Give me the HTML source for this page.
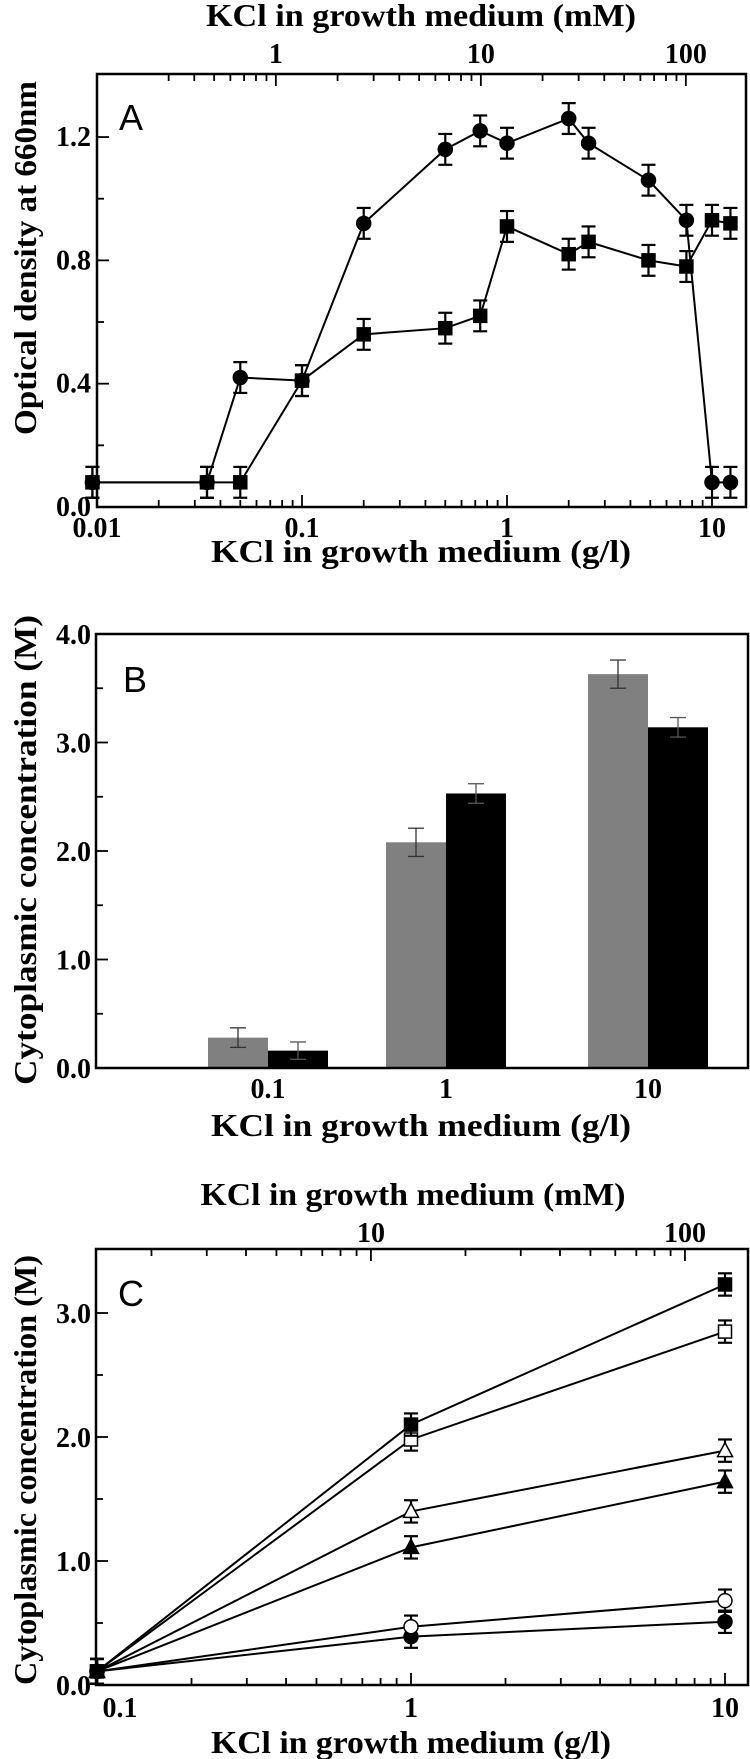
<!DOCTYPE html>
<html><head><meta charset="utf-8"><style>
html,body{margin:0;padding:0;background:#fff;}
svg{display:block;}
text{font-family:"Liberation Serif",serif;font-weight:bold;fill:#000;}
.lt{font-family:"Liberation Sans",sans-serif;font-weight:normal;}
</style></head><body>
<svg id="fig" width="750" height="1759" viewBox="0 0 750 1759" xmlns="http://www.w3.org/2000/svg"></svg>
<script>
// ---- Panel A data ----
const aX = [0.0095, 0.0344, 0.05, 0.1, 0.2, 0.5, 0.74, 1.0, 2.0, 2.5, 4.9, 7.5, 10, 12.3];
const aCircles = [0.08, 0.08, 0.42, 0.41, 0.92, 1.16, 1.22, 1.18, 1.26, 1.18, 1.06, 0.93, 0.08, 0.08];
const aSquares = [0.08, 0.08, 0.08, 0.41, 0.56, 0.58, 0.62, 0.91, 0.82, 0.86, 0.80, 0.78, 0.93, 0.92];
const aErr = 0.05;
const aYTicks = [0.0, 0.4, 0.8, 1.2];
const aXTicks = [0.01, 0.1, 1, 10];
const aXTickLabels = ["0.01", "0.1", "1", "10"];
const aTopTicks = [1, 10, 100];
// ---- Panel B data ----
const bCats = ["0.1", "1", "10"];
const bGray = [0.28, 2.08, 3.63];
const bGrayErr = [0.09, 0.13, 0.13];
const bBlack = [0.16, 2.53, 3.14];
const bBlackErr = [0.08, 0.09, 0.09];
const bYTicks = [0, 1, 2, 3, 4];
// ---- Panel C data ----
const cX = [0.1, 1, 10];
const cFilledSquare = [0.11, 2.10, 3.23];
const cOpenSquare = [0.11, 1.98, 2.85];
const cOpenTri = [0.11, 1.40, 1.89];
const cFilledTri = [0.11, 1.11, 1.64];
const cOpenCircle = [0.11, 0.47, 0.68];
const cFilledCircle = [0.11, 0.39, 0.51];
const cErr = [0.1, 0.09, 0.09];
const cYTicks = [0, 1, 2, 3];
const cXTicks = [0.1, 1, 10];
const cXTickLabels = ["0.1", "1", "10"];
const cTopTicks = [10, 100];

const NS = "http://www.w3.org/2000/svg";
const svg = document.getElementById("fig");
const GPM = 0.07455; // g/l per mM KCl
function mk(tag, attrs, parent) {
  const e = document.createElementNS(NS, tag);
  for (const k in attrs) e.setAttribute(k, attrs[k]);
  (parent || svg).appendChild(e);
  return e;
}
function line(x1, y1, x2, y2, w, col, p) { return mk("line", {x1, y1, x2, y2, stroke: col || "#000", "stroke-width": w || 2}, p); }
function txt(x, y, s, size, anchor, p, extra) {
  const t = mk("text", Object.assign({x, y, "font-size": size, "text-anchor": anchor || "middle"}, extra || {}), p);
  t.textContent = s; return t;
}
function logTicks(lo, hi) { const r = []; for (let d = Math.floor(Math.log10(lo)); d <= Math.ceil(Math.log10(hi)); d++) for (let m = 1; m < 10; m++) { const v = m * Math.pow(10, d); if (v >= lo && v <= hi) r.push([v, m === 1]); } return r; }
function marker(kind, x, y, p) {
  const filled = kind.indexOf("filled") === 0;
  const fill = filled ? "#000" : "#fff";
  let e;
  if (kind.indexOf("square") >= 0) e = mk("rect", {x: x - 6.5, y: y - 6.5, width: 13, height: 13, fill, stroke: "#000", "stroke-width": 1.5}, p);
  else if (kind.indexOf("circle") >= 0) e = mk("circle", {cx: x, cy: y, r: 7, fill, stroke: "#000", "stroke-width": 1.5}, p);
  else e = mk("polygon", {points: `${x},${y - 8} ${x + 7.5},${y + 6} ${x - 7.5},${y + 6}`, fill, stroke: "#000", "stroke-width": 1.5}, p);
  return e;
}
function errBar(x, y1, y2, cap, w, col, p) {
  line(x, y1, x, y2, w, col, p); line(x - cap, y1, x + cap, y1, w, col, p); line(x - cap, y2, x + cap, y2, w, col, p);
}

// ===== Panel A =====
(function () {
  const g = mk("g", {});
  
  
  const L = 97, R = 746, T = 74, B = 507;
  const xA = v => L + (Math.log10(v) + 2) * 205;
  const yA = v => B - v * 308.3;
  const box = mk("rect", {x: L, y: T, width: R - L, height: B - T, fill: "none", stroke: "#000", "stroke-width": 2.5}, g);
  
  
  logTicks(0.01, 14.5).forEach(([v, maj]) => { const x = xA(v); if (x > L + 1 && x < R - 1) line(x, B, x, B - (maj ? 12 : 7), 1.8, "#000", g); });
  logTicks(0.3, 200).forEach(([v, maj]) => { const x = xA(v * GPM); if (x > L + 1 && x < R - 1) line(x, T, x, T + (maj ? 12 : 7), 1.8, "#000", g); });
  for (let v = 0.2; v < 1.4; v += 0.2) line(L, yA(v), L + (Math.abs(v / 0.4 - Math.round(v / 0.4)) < 0.01 ? 12 : 7), yA(v), 1.8, "#000", g);
  aYTicks.forEach(v => { const t = txt(91, yA(v) + 9, v.toFixed(1), 28, "end", g);   });
  aXTicks.forEach((v, i) => { const t = txt(xA(v), B + 30, aXTickLabels[i], 28, "middle", g);   });
  aTopTicks.forEach(v => { const t = txt(xA(v * GPM), 63, String(v), 28, "middle", g);   });
  const tt = txt(421, 26, "KCl in growth medium (mM)", 32, "middle", g, {textLength: 430, lengthAdjust: "spacingAndGlyphs"});
   
  const bt = txt(421, 562, "KCl in growth medium (g/l)", 32, "middle", g, {textLength: 420, lengthAdjust: "spacingAndGlyphs"});
   
  const yt = txt(0, 0, "Optical density at 660nm", 32, "middle", g, {transform: "translate(36,258) rotate(-90)", textLength: 354, lengthAdjust: "spacingAndGlyphs"});
   
  const lab = txt(119, 130, "A", 36, "start", g); lab.setAttribute("class", "lt");
   
  [[aCircles, "filled-circle"], [aSquares, "filled-square"]].forEach(([ys, kind]) => {
    const pts = aX.map((x, i) => xA(x) + "," + yA(ys[i])).join(" ");
    const pl = mk("polyline", {points: pts, fill: "none", stroke: "#000", "stroke-width": 2}, g);
     
    aX.forEach((x, i) => {
      errBar(xA(x), yA(ys[i] + aErr), yA(ys[i] - aErr), 7, 2.2, "#000", g);
      const m = marker(kind, xA(x), yA(ys[i]), g);
       
    });
  });
})();

// ===== Panel B =====
(function () {
  const g = mk("g", {});
  
  
  const L = 96, R = 748, T = 634, B = 1068;
  const yB = v => B - v * 108.5;
  const centers = [268, 446, 648];
  const bw = 60;
  bCats.forEach((c, i) => {
    const cx = centers[i];
    const r1 = mk("rect", {x: cx - bw, y: yB(bGray[i]), width: bw, height: B - yB(bGray[i]), fill: "#808080"}, g);
     
    const r2 = mk("rect", {x: cx, y: yB(bBlack[i]), width: bw, height: B - yB(bBlack[i]), fill: "#000"}, g);
     
    errBar(cx - bw / 2, yB(bGray[i] + bGrayErr[i]), yB(bGray[i] - bGrayErr[i]), 8, 1.3, "#333", g);
    errBar(cx + bw / 2, yB(bBlack[i] + bBlackErr[i]), yB(bBlack[i] - bBlackErr[i]), 8, 1.3, "#555", g);
    const t = txt(cx, 1098, c, 28, "middle", g);  
  });
  const box = mk("rect", {x: L, y: T, width: R - L, height: B - T, fill: "none", stroke: "#000", "stroke-width": 2.5}, g);
   
  for (let v = 0.5; v < 4; v += 0.5) line(L, yB(v), L + (v % 1 === 0 ? 12 : 7), yB(v), 1.8, "#000", g);
  bYTicks.forEach(v => { const t = txt(91, yB(v) + 10, v.toFixed(1), 28, "end", g);   });
  const bt = txt(421, 1136, "KCl in growth medium (g/l)", 32, "middle", g, {textLength: 420, lengthAdjust: "spacingAndGlyphs"});
   
  const yt = txt(0, 0, "Cytoplasmic concentration (M)", 32, "middle", g, {transform: "translate(36,850) rotate(-90)", textLength: 470, lengthAdjust: "spacingAndGlyphs"});
   
  const lab = txt(123, 692, "B", 36, "start", g); lab.setAttribute("class", "lt");
   
})();

// ===== Panel C =====
(function () {
  const g = mk("g", {});
  
  
  const L = 96, R = 748, T = 1249, B = 1685;
  const xC = v => L + 1 + (Math.log10(v) + 1) * 314;
  const yC = v => B - v * 124;
  const box = mk("rect", {x: L, y: T, width: R - L, height: B - T, fill: "none", stroke: "#000", "stroke-width": 2.5}, g);
   
  logTicks(0.1, 12).forEach(([v, maj]) => { const x = xC(v); if (x > L + 2 && x < R - 1) line(x, B, x, B - (maj ? 12 : 7), 1.8, "#000", g); });
  logTicks(1, 200).forEach(([v, maj]) => { const x = xC(v * GPM); if (x > L + 2 && x < R - 1) line(x, T, x, T + (maj ? 12 : 7), 1.8, "#000", g); });
  for (let v = 0.5; v < 3.5; v += 0.5) line(L, yC(v), L + (v % 1 === 0 ? 12 : 7), yC(v), 1.8, "#000", g);
  cYTicks.forEach(v => { const t = txt(91, yC(v) + 10, v.toFixed(1), 28, "end", g);   });
  cXTicks.forEach((v, i) => { const t = txt(i === 0 ? 120 : xC(v), 1717, cXTickLabels[i], 28, "middle", g);   });
  cTopTicks.forEach(v => { const t = txt(xC(v * GPM), 1242, String(v), 28, "middle", g);   });
  const tt = txt(413, 1205, "KCl in growth medium (mM)", 32, "middle", g, {textLength: 425, lengthAdjust: "spacingAndGlyphs"});
   
  const bt = txt(411, 1753, "KCl in growth medium (g/l)", 32, "middle", g, {textLength: 400, lengthAdjust: "spacingAndGlyphs"});
   
  const yt = txt(0, 0, "Cytoplasmic concentration (M)", 32, "middle", g, {transform: "translate(36,1470) rotate(-90)", textLength: 430, lengthAdjust: "spacingAndGlyphs"});
   
  const lab = txt(118, 1306, "C", 36, "start", g); lab.setAttribute("class", "lt");
   
  const series = [[cFilledCircle, "filled-circle"], [cOpenCircle, "open-circle"], [cFilledTri, "filled-triangle"], [cOpenTri, "open-triangle"], [cOpenSquare, "open-square"], [cFilledSquare, "filled-square"]];
  series.forEach(([ys, kind]) => {
    const pts = cX.map((x, i) => xC(x) + "," + yC(ys[i])).join(" ");
    const pl = mk("polyline", {points: pts, fill: "none", stroke: "#000", "stroke-width": 2}, g);
     
  });
  series.forEach(([ys, kind]) => {
    cX.forEach((x, i) => {
      errBar(xC(x), yC(ys[i] + cErr[i]), yC(ys[i] - cErr[i]), 7, 2.2, "#000", g);
      const m = marker(kind, xC(x), yC(ys[i]), g);
       
    });
  });
})();
</script>
</body></html>
